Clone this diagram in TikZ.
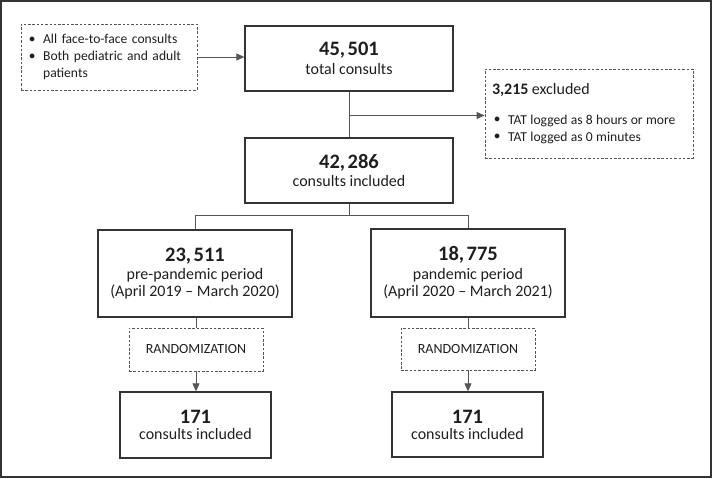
\documentclass[tikz,border=0pt]{standalone}
\usepackage{fontspec}
\setmainfont{Carlito}
\usetikzlibrary{arrows.meta}
\definecolor{ink}{HTML}{1E1E1E}
\definecolor{edge}{HTML}{333333}
\definecolor{conn}{HTML}{555555}
\definecolor{dash}{HTML}{555555}
\tikzset{
  mainbox/.style={draw=edge, line width=1.3pt, inner sep=0pt, align=center, text=ink},
  dashbox/.style={draw=dash, line width=0.8pt, dash pattern=on 2.5pt off 1.8pt, inner sep=0pt, text=ink},
  link/.style={draw=conn, line width=0.9pt},
  arr/.style={link, -{Triangle[length=8pt,width=7pt]}},
}
\newcommand{\bul}{\raisebox{1.5pt}{\scalebox{0.85}{$\bullet$}}}
\newcommand{\numf}{\fontsize{20.5}{20}\selectfont\bfseries}
\newcommand{\txtf}{\fontsize{16}{20}\selectfont\mdseries}
\newcommand{\cm}{,\hspace{2.5pt}}
\begin{document}
\begin{tikzpicture}[x=1pt,y=-1pt]
\useasboundingbox (0,0) rectangle (713,479);
\draw[draw=edge, line width=1.5pt] (1,1) rectangle (711,477);

\node[dashbox, minimum width=176pt, minimum height=66pt, text width=160pt, align=left,
      font=\fontsize{13.6}{17}\selectfont] (incl) at (109,57)
  {\bul\hspace{8pt}All face-to-face consults\\
   \bul\hspace{8pt}Both pediatric and adult\\
   \phantom{\bul}\hspace{8pt}patients};

\node[mainbox, minimum width=208pt, minimum height=65pt] (tot) at (349,58.5)
  {\numf 45\cm 501\\[4pt] \txtf total consults};

\node[mainbox, minimum width=208pt, minimum height=65pt] (inc) at (349,170.5)
  {\numf 42\cm 286\\[4pt] \txtf consults included};

\node[dashbox, minimum width=208pt, minimum height=89pt, text width=194pt, align=left] (exc) at (589,113.5)
  {{\fontsize{16}{17}\selectfont\textbf{3,215} excluded\par}\vspace{13pt}
   {\fontsize{13.6}{17}\selectfont \hspace{2pt}\bul\hspace{8pt}TAT logged as 8 hours or more\\
   \hspace*{2pt}\bul\hspace{8pt}TAT logged as 0 minutes\par}};

\node[mainbox, minimum width=194pt, minimum height=87pt] (pre) at (195,273.5)
  {\numf 23\cm 511\\[4pt] \txtf pre-pandemic period\\[1.5pt] \txtf (April 2019 -- March 2020)};

\node[mainbox, minimum width=194pt, minimum height=88pt] (pan) at (468,273)
  {\numf 18\cm 775\\[4pt] \txtf pandemic period\\[1.5pt] \txtf (April 2020 -- March 2021)};

\node[dashbox, minimum width=134pt, minimum height=43pt, font=\fontsize{14}{15}\selectfont] (r1) at (196,349.5) {RANDOMIZATION};
\node[dashbox, minimum width=134pt, minimum height=42pt, font=\fontsize{14}{15}\selectfont] (r2) at (468,349) {RANDOMIZATION};

\node[mainbox, minimum width=151pt, minimum height=66pt] (f1) at (195.5,425)
  {\numf 171\\[4pt] \txtf consults included};
\node[mainbox, minimum width=151pt, minimum height=65pt] (f2) at (467.5,424.5)
  {\numf 171\\[4pt] \txtf consults included};

% connectors
\draw[arr] (incl.east) -- (tot.west |- incl.east);
\draw[link] (tot.south) -- (inc.north);
\coordinate (br) at (349,115.5);
\draw[arr] (br) -- (exc.west |- br);
\coordinate (sp) at (349,215.5);
\draw[link] (inc.south) -- (sp);
\draw[link] (pre.north) |- (sp) -| (pan.north);
\draw[link] (pre.south -| r1.north) -- (r1.north);
\draw[link] (pan.south) -- (r2.north);
\draw[arr] (r1.south) -- (r1.south |- f1.north);
\draw[arr] (r2.south) -- (r2.south |- f2.north);
\end{tikzpicture}
\end{document}
